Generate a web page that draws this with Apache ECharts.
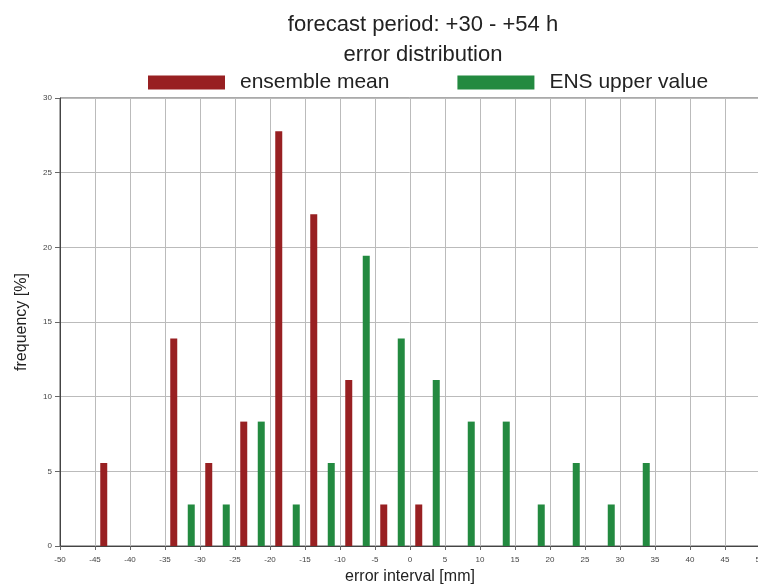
<!DOCTYPE html>
<html>
<head>
<meta charset="utf-8">
<script src="https://cdn.jsdelivr.net/npm/echarts@6/dist/echarts.min.js"></script>
<style>html,body{margin:0;padding:0;background:#fff}#c{width:758px;height:585px}</style>
</head>
<body>
<div id="c"></div>
<script>
const titleLines = ['forecast period: +30 - +54 h', 'error distribution'];
const seriesNames = ['ensemble mean', 'ENS upper value'];
const meanX = [-43.75, -33.75, -28.75, -23.75, -18.75, -13.75, -8.75, -3.75, 1.25];
const meanY = [5.56, 13.89, 5.56, 8.33, 27.78, 22.22, 11.11, 2.78, 2.78];
const upperX = [-31.25, -26.25, -21.25, -16.25, -11.25, -6.25, -1.25, 3.75, 8.75, 13.75, 18.75, 23.75, 28.75, 33.75];
const upperY = [2.78, 2.78, 8.33, 2.78, 5.56, 19.44, 13.89, 11.11, 8.33, 8.33, 2.78, 5.56, 2.78, 5.56];

const FONT = 'Liberation Sans';
const chart = echarts.init(document.getElementById('c'), null, {renderer: 'canvas'});
chart.setOption({
  animation: false,
  backgroundColor: '#fff',
  textStyle: {fontFamily: FONT},
  title: [
    {text: titleLines[0], left: 418, top: 9, textAlign: 'center',
     textStyle: {fontFamily: FONT, fontSize: 22, fontWeight: 'normal', color: '#222'}},
    {text: titleLines[1], left: 418, top: 39, textAlign: 'center',
     textStyle: {fontFamily: FONT, fontSize: 22, fontWeight: 'normal', color: '#222'}}
  ],
  legend: {
    left: 143, top: 67,
    itemWidth: 77, itemHeight: 14, itemGap: 68,
    icon: 'rect',
    textStyle: {fontFamily: FONT, fontSize: 21, color: '#222', padding: [0, 0, 0, 10]},
    data: seriesNames
  },
  grid: {left: 60, right: -2, top: 98, bottom: 39, outerBoundsMode: 'none', containLabel: false,
         show: true, borderColor: '#555', borderWidth: 1},
  xAxis: {
    type: 'value', min: -50, max: 50, interval: 5,
    name: 'error interval [mm]', nameLocation: 'middle', nameGap: 22,
    nameTextStyle: {fontFamily: FONT, fontSize: 16, color: '#222'},
    axisLine: {show: true, onZero: false, lineStyle: {color: '#444'}},
    axisTick: {show: true, length: 4, lineStyle: {color: '#666'}},
    axisLabel: {fontFamily: FONT, fontSize: 8, color: '#444', margin: 10},
    splitLine: {show: true, lineStyle: {color: '#bbb', width: 1}}
  },
  yAxis: {
    type: 'value', min: 0, max: 30, interval: 5,
    name: 'frequency [%]', nameLocation: 'middle', nameGap: 30, nameRotate: 90,
    nameTextStyle: {fontFamily: FONT, fontSize: 16, color: '#222'},
    axisLine: {show: true, onZero: false, lineStyle: {color: '#444'}},
    axisTick: {show: true, length: 5, lineStyle: {color: '#666'}},
    axisLabel: {fontFamily: FONT, fontSize: 8, color: '#444', margin: 8},
    splitLine: {show: true, lineStyle: {color: '#bbb', width: 1}}
  },
  series: [
    {name: seriesNames[0], type: 'bar', barWidth: 7, barGap: '-100%',
     itemStyle: {color: '#982022'},
     data: meanX.map((x, i) => [x, meanY[i]])},
    {name: seriesNames[1], type: 'bar', barWidth: 7, barGap: '-100%',
     itemStyle: {color: '#238a40'},
     data: upperX.map((x, i) => [x, upperY[i]])}
  ]
});
</script>
</body>
</html>
